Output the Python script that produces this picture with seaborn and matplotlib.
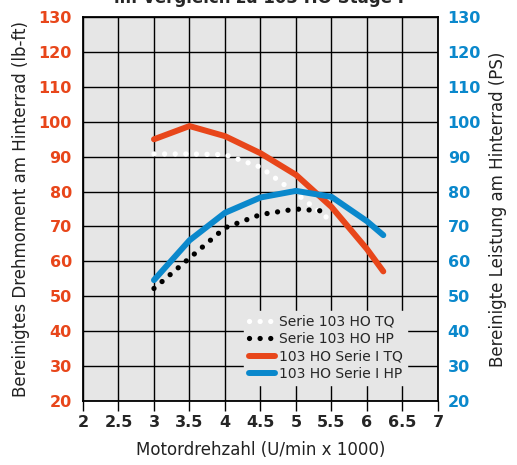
import matplotlib
matplotlib.use("Agg")
import matplotlib.pyplot as plt
import seaborn as sns
import pandas as pd

# Data
rpm_tq_std = [3.0, 3.5, 4.0, 4.5, 5.0, 5.5]
tq_std = [90.8, 90.8, 90.6, 87.0, 79.5, 71.5]
rpm_hp_std = [3.0, 3.5, 4.0, 4.5, 5.0, 5.4]
hp_std = [52.2, 60.9, 69.6, 73.4, 75.0, 74.4]
rpm_stage = [3.0, 3.5, 4.0, 4.5, 5.0, 5.5, 6.0, 6.23]
tq_stage = [95.0, 98.8, 95.9, 91.0, 84.8, 75.6, 63.5, 57.1]
hp_stage = [54.6, 66.0, 73.9, 78.3, 80.2, 78.5, 71.5, 67.5]

x_ticks = [2, 2.5, 3, 3.5, 4, 4.5, 5, 5.5, 6, 6.5, 7]
x_labels = ["2", "2.5", "3", "3.5", "4", "4.5", "5", "5.5", "6", "6.5", "7"]
y_ticks = [20, 30, 40, 50, 60, 70, 80, 90, 100, 110, 120, 130]

labels = ["Serie 103 HO TQ", "Serie 103 HO HP", "103 HO Serie I TQ", "103 HO Serie I HP"]
title = "im Vergleich zu 103 HO Stage I"
xlabel = "Motordrehzahl (U/min x 1000)"
ylabel_l = "Bereinigtes Drehmoment am Hinterrad (lb-ft)"
ylabel_r = "Bereinigte Leistung am Hinterrad (PS)"

RED = "#e8461a"
BLUE = "#0a88cc"
BG = "#e6e6e6"

sns.set_theme(style="white")
plt.rcParams["font.family"] = ["DejaVu Sans"]

fig = plt.figure(figsize=(5.17, 4.65), dpi=100)
ax = fig.add_axes([0.1605, 0.1383, 0.6866, 0.8245])
ax.set_facecolor(BG)
fig.patch.set_facecolor("white")

dot_lw = 3.8
dot_style = (0, (0.01, 2.0))
sns.lineplot(x=rpm_tq_std, y=tq_std, ax=ax, color="white", lw=dot_lw,
             linestyle=dot_style, dash_capstyle="round",
             label=labels[0], zorder=3)
sns.lineplot(x=rpm_hp_std, y=hp_std, ax=ax, color="black", lw=dot_lw,
             linestyle=dot_style, dash_capstyle="round",
             label=labels[1], zorder=3)
sns.lineplot(x=rpm_stage, y=tq_stage, ax=ax, color=RED, lw=4.3,
             solid_capstyle="round", solid_joinstyle="round",
             label=labels[2], zorder=4)
sns.lineplot(x=rpm_stage, y=hp_stage, ax=ax, color=BLUE, lw=4.3,
             solid_capstyle="round", solid_joinstyle="round",
             label=labels[3], zorder=4)

ax.set_xlim(2, 7)
ax.set_ylim(20, 130)
ax.set_xticks(x_ticks)
ax.set_xticklabels(x_labels)
ax.set_yticks(y_ticks)
ax.grid(True, color="black", lw=1.0)
ax.set_axisbelow(True)
for s in ax.spines.values():
    s.set_color("black")
    s.set_linewidth(1.3)

ax.tick_params(axis="x", direction="out", length=7, width=1.0, color="black",
               labelsize=11.5, pad=3, bottom=True)
ax.tick_params(axis="y", length=0, pad=8, labelsize=11.5, labelcolor=RED)
for t in ax.get_xticklabels():
    t.set_fontweight("bold")
for t in ax.get_yticklabels():
    t.set_fontweight("bold")

ax.set_xlabel(xlabel, fontsize=12, labelpad=8, color="#222222")
ax.set_ylabel(ylabel_l, fontsize=12, labelpad=6, color="#222222")

ax2 = ax.twinx()
ax2.set_ylim(20, 130)
ax2.set_yticks(y_ticks)
ax2.tick_params(axis="y", length=0, pad=7, labelsize=11.5, labelcolor=BLUE)
for t in ax2.get_yticklabels():
    t.set_fontweight("bold")
ax2.set_ylabel(ylabel_r, fontsize=12, labelpad=6, color="#222222")
ax2.grid(False)
for s in ax2.spines.values():
    s.set_visible(False)

leg = ax.legend(loc="lower left", bbox_to_anchor=(0.455, 0.04), frameon=True,
                fontsize=10, handlelength=1.9, handletextpad=0.25,
                labelspacing=0.25, borderpad=0.3, borderaxespad=0)
leg.get_frame().set_facecolor(BG)
leg.get_frame().set_edgecolor(BG)
leg.get_frame().set_alpha(1)
leg.set_zorder(10)

fig.text(0.5, 1 - 3 / 465, title, ha="center", va="baseline",
         fontsize=12, fontweight="bold")

fig.savefig("out.png", dpi=100)
